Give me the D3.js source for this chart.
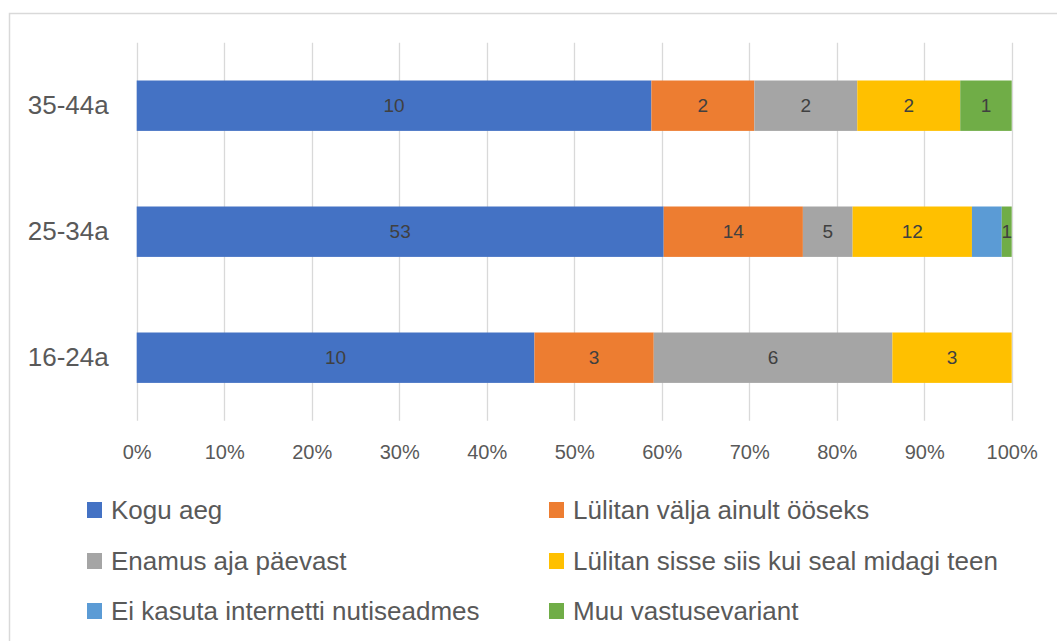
<!DOCTYPE html>
<html>
<head>
<meta charset="utf-8">
<script src="https://cdn.jsdelivr.net/npm/d3@7"></script>
<style>
  body { margin: 0; background: #fff; }
  svg text { font-family: "Liberation Sans", Arial, sans-serif; }
</style>
</head>
<body>
<svg id="chart" width="1057" height="641"></svg>
<script>
const categories = ["35-44a", "25-34a", "16-24a"];
const seriesNames = [
  "Kogu aeg",
  "Lülitan välja ainult ööseks",
  "Enamus aja päevast",
  "Lülitan sisse siis kui seal midagi teen",
  "Ei kasuta internetti nutiseadmes",
  "Muu vastusevariant"
];
// values per series, in the order of categories
const koguAeg = [10, 53, 10];
const lylitanValja = [2, 14, 3];
const enamusAja = [2, 5, 6];
const lylitanSisse = [2, 12, 3];
const eiKasuta = [0, 3, 0];
const muu = [1, 1, 0];
const showLabels = [true, true, true, true, false, true];
const colors = ["#4472C4", "#ED7D31", "#A5A5A5", "#FFC000", "#5B9BD5", "#70AD47"];
const ticks = [0, 0.1, 0.2, 0.3, 0.4, 0.5, 0.6, 0.7, 0.8, 0.9, 1];

const seriesValues = [koguAeg, lylitanValja, enamusAja, lylitanSisse, eiKasuta, muu];
const rows = categories.map((c, i) => {
  const r = { cat: c };
  seriesNames.forEach((s, j) => r[s] = seriesValues[j][i]);
  return r;
});

const svg = d3.select("#chart");
const plot = { left: 136.7, right: 1011.7, top: 42.7, bottom: 420.7 };

// chart frame
svg.append("rect")
  .attr("x", 9.5).attr("y", 13.5)
  .attr("width", 1200).attr("height", 800)
  .attr("fill", "none")
  .attr("stroke", "#d9d9d9")
  .attr("stroke-width", 1.5);

const x = d3.scaleLinear().domain([0, 1]).range([plot.left, plot.right]);
const y = d3.scaleBand()
  .domain(categories)
  .range([plot.top, plot.bottom])
  .paddingInner(0.6)
  .paddingOuter(0.3);

// gridlines
svg.append("g")
  .selectAll("line")
  .data(ticks)
  .join("line")
  .attr("x1", d => Math.round(x(d)) + 0.5)
  .attr("x2", d => Math.round(x(d)) + 0.5)
  .attr("y1", plot.top)
  .attr("y2", plot.bottom)
  .attr("stroke", "#d9d9d9")
  .attr("stroke-width", 1.3);

// x axis labels
const xAxis = svg.append("g")
  .attr("transform", `translate(0,${plot.bottom})`)
  .call(d3.axisBottom(x).tickValues(ticks).tickFormat(d3.format(".0%")).tickSize(0).tickPadding(24));
xAxis.select(".domain").remove();
xAxis.selectAll("text")
  .attr("fill", "#595959")
  .style("font-size", "20px");

// y axis labels
const yAxis = svg.append("g")
  .attr("transform", `translate(${plot.left},0)`)
  .call(d3.axisLeft(y).tickSize(0).tickPadding(28));
yAxis.select(".domain").remove();
yAxis.selectAll("text")
  .attr("fill", "#595959")
  .style("font-size", "26px");

const stack = d3.stack().keys(seriesNames).offset(d3.stackOffsetExpand);
const stacked = stack(rows);

const layers = svg.append("g")
  .selectAll("g")
  .data(stacked)
  .join("g")
  .attr("fill", (d, i) => colors[i]);

layers.selectAll("rect")
  .data(d => d.filter(p => p[1] > p[0]))
  .join("rect")
  .attr("x", d => x(d[0]))
  .attr("y", d => y(d.data.cat))
  .attr("width", d => x(d[1]) - x(d[0]))
  .attr("height", y.bandwidth());

// data labels (the light blue series has none in the original)
const labelLayers = svg.append("g")
  .selectAll("g")
  .data(stacked.filter((s, i) => showLabels[i]))
  .join("g");

labelLayers.selectAll("text")
  .data(s => s.filter(p => p[1] > p[0]).map(p => ({ p, v: p.data[s.key] })))
  .join("text")
  .attr("x", d => (x(d.p[0]) + x(d.p[1])) / 2)
  .attr("y", d => y(d.p.data.cat) + y.bandwidth() / 2)
  .attr("dy", "0.35em")
  .attr("text-anchor", "middle")
  .attr("fill", "#404040")
  .style("font-size", "19px")
  .text(d => d.v);

// legend
const legendCols = [87, 549];
const legendRows = [510, 561, 611];
const legend = svg.append("g")
  .selectAll("g")
  .data(seriesNames)
  .join("g")
  .attr("transform", (d, i) => `translate(${legendCols[i % 2]},${legendRows[Math.floor(i / 2)]})`);

legend.append("rect")
  .attr("x", 0).attr("y", -8)
  .attr("width", 15).attr("height", 16)
  .attr("fill", (d, i) => colors[i]);

legend.append("text")
  .attr("x", 24)
  .attr("dy", "0.35em")
  .attr("fill", "#595959")
  .style("font-size", "26px")
  .text(d => d);
</script>
</body>
</html>
